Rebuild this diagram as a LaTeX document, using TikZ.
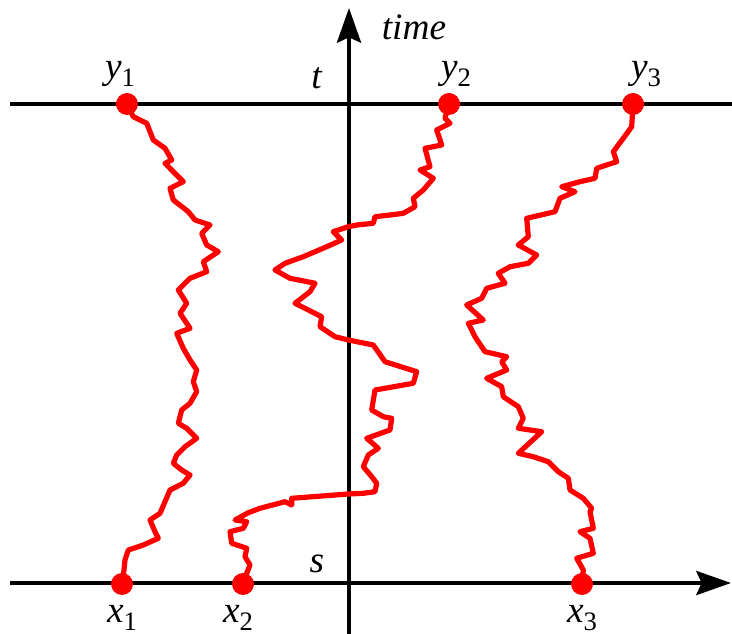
\documentclass[tikz,border=0pt]{standalone}
\usepackage{fontspec}
\setmainfont{Liberation Serif}
\newfontfamily\labfont{Liberation Serif}
\usetikzlibrary{arrows.meta}
\newcommand{\sublab}[2]{\textit{#1}\raisebox{-0.45ex}{\fontsize{20}{20}\selectfont #2}}
\tikzset{
  axisline/.style={line width=3.2pt, black},
  axisarrow/.style={axisline, -{Stealth[length=26pt, width=18pt, inset=4pt]}},
  walk/.style={line width=3.9pt, red, line join=round, line cap=round},
  dot/.style={circle, fill=red, inner sep=0pt, minimum size=16.5pt},
  lbl/.style={inner sep=0pt, font=\labfont\fontsize{28}{28}\selectfont},
}
\begin{document}
\begin{tikzpicture}[x=0.75pt, y=-0.75pt]
\useasboundingbox (0,0) rectangle (732,634);
% axes
\coordinate (vb) at (349,634);
\coordinate (vt) at (349,8);
\coordinate (hl) at (10,583);
\coordinate (hr) at (731,583);
\coordinate (tl) at (10,104);
\coordinate (tr) at (732,104);
\draw[axisline] (tl) -- (tr);
\draw[axisarrow] (hl) -- (hr);
\draw[axisarrow] (vb) -- (vt);
% dots
\node[dot] (y1) at (127,104) {};
\node[dot] (y2) at (449,104) {};
\node[dot] (y3) at (633,104) {};
\node[dot] (x1) at (122,584) {};
\node[dot] (x2) at (243,584) {};
\node[dot] (x3) at (582,584) {};
% walks
\draw[walk] (y1.center) -- (133.3,116.7) -- (146.7,123.3) -- (153.3,140) -- (165,148.3) -- (171.7,160) -- (165,163.3) -- (183.3,181.7) -- (170,188.3) -- (173.3,200) -- (188.3,211.7) -- (195,220) -- (210,225) -- (201.7,233.3) -- (206.7,245) -- (218.3,251.7) -- (203.3,261.7) -- (206.7,271.7) -- (190,278.3) -- (178.3,290) -- (186.7,303.3) -- (180,313.3) -- (190,328.3) -- (176.7,333.3) -- (183.3,348.3) -- (190,360) -- (196.7,370) -- (193.3,381.7) -- (196.7,391.7) -- (190,403.3) -- (181.7,410) -- (178.3,423.3) -- (186.7,428.3) -- (196.7,438.3) -- (185,446.7) -- (176.7,455) -- (173.3,463.3) -- (181.7,470) -- (190,475) -- (183.3,483.3) -- (170,490) -- (165,501.7) -- (160,513.3) -- (150,520) -- (155,531.7) -- (158.3,538.3) -- (143.3,545) -- (128.3,550) -- (125,560) -- (123.3,576.7) -- (x1.center);
\draw[walk] (y2.center) -- (445,118.3) -- (450,123.3) -- (436.7,130) -- (441.7,145) -- (425,148.3) -- (430,166.7) -- (420,170) -- (433.3,178.3) -- (423.3,190) -- (413.3,198.3) -- (415,206.7) -- (403.3,213.3) -- (390,215) -- (375,216.7) -- (373.3,223.3) -- (356.7,225) -- (348.3,226.7) -- (333.3,231.7) -- (341.7,240) -- (326.7,246.7) -- (303.3,256.7) -- (285,263.3) -- (275,270) -- (290,278.3) -- (315,283.3) -- (310,291.7) -- (295,303.3) -- (311.7,311.7) -- (321.7,316.7) -- (320,326.7) -- (335,336.7) -- (348.3,340) -- (373.3,345) -- (385,361.7) -- (416.7,371.7) -- (413.3,383.3) -- (375,390) -- (371.7,410) -- (383.3,416.7) -- (391.7,418.3) -- (390,430) -- (366.7,438.3) -- (378.3,448.3) -- (368.3,455) -- (363.3,466.7) -- (371.7,476.7) -- (376.7,483.3) -- (375,491.7) -- (363.3,493.3) -- (348.3,494) -- (291.7,498.3) -- (291.7,505) -- (285,501.7) -- (260,508.3) -- (248.3,512.7) -- (235,520) -- (246.7,521.7) -- (243.3,528.3) -- (230,531.7) -- (231.7,543.3) -- (246.7,548.3) -- (245,556.7) -- (250,565) -- (246.7,573.3) -- (x2.center);
\draw[walk] (y3.center) -- (631.7,126.7) -- (623.3,138.3) -- (613.3,151.7) -- (616.7,161.7) -- (596.7,168.3) -- (595,178.3) -- (580,181.7) -- (561.7,186.7) -- (575,191.7) -- (560,198.3) -- (555,211.7) -- (526.7,218.3) -- (528.3,236.7) -- (518.3,245) -- (536.7,255) -- (528.3,263.3) -- (510,266.7) -- (498.3,273.3) -- (505,283.3) -- (486.7,288.3) -- (481.7,298.3) -- (466.7,305) -- (483.3,320) -- (468.3,323.3) -- (471.7,330) -- (475,336.7) -- (485,351.7) -- (506.7,356.7) -- (501.7,361.7) -- (506.7,370) -- (486.7,378.3) -- (501.7,386.7) -- (503.3,396.7) -- (518.3,406.7) -- (523.3,418.3) -- (518.3,428.3) -- (541.7,431.7) -- (518.3,453.3) -- (533.3,456.7) -- (548.3,461.7) -- (558.3,471.7) -- (568.3,478.3) -- (570,490) -- (583.3,498.3) -- (591.7,508.3) -- (590,511.7) -- (593.3,528.3) -- (580,531.7) -- (590,538.3) -- (593.3,553.3) -- (576.7,558.3) -- (583.3,570) -- (x3.center);
% labels
\node[lbl] (ltime) at (414,27) {\textit{time}};
\node[lbl] (lt) at (317,78) {\textit{t}};
\node[lbl] (ls) at (317,564) {\textit{s}};
\node[lbl] (ly1) at (120,74) {\sublab{y}{1}};
\node[lbl] (ly2) at (456,74) {\sublab{y}{2}};
\node[lbl] (ly3) at (646,74) {\sublab{y}{3}};
\node[lbl] (lx1) at (122,618) {\sublab{x}{1}};
\node[lbl] (lx2) at (238,618) {\sublab{x}{2}};
\node[lbl] (lx3) at (582,618) {\sublab{x}{3}};
\end{tikzpicture}
\end{document}
